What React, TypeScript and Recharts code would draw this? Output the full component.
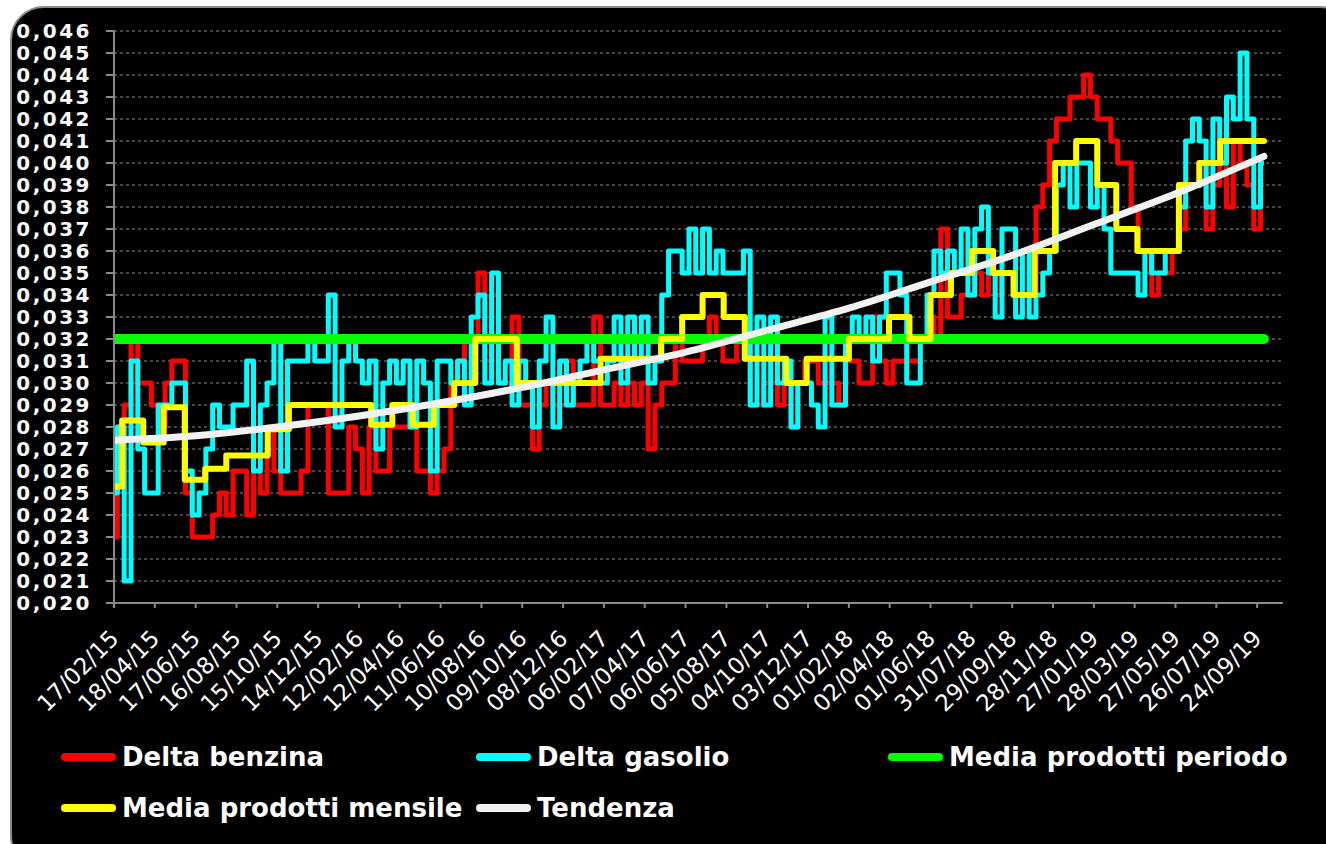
import React from "react";
import { ComposedChart, Line, XAxis, YAxis, CartesianGrid } from "recharts";

// daily deltas sampled every 10 days from 17/02/15
const STEP_DAYS = 10;
const benzina = [
  0.023, 0.028, 0.029, 0.032, 0.030, 0.030, 0.029, 0.028, 0.030, 0.031,
  0.031, 0.025, 0.023, 0.023, 0.023, 0.024, 0.025, 0.024, 0.026, 0.026,
  0.024, 0.026, 0.025, 0.028, 0.026, 0.025, 0.025, 0.025, 0.026, 0.029,
  0.029, 0.029, 0.025, 0.025, 0.025, 0.028, 0.027, 0.025, 0.028, 0.026,
  0.026, 0.028, 0.028, 0.028, 0.028, 0.026, 0.026, 0.025, 0.026, 0.027,
  0.030, 0.031, 0.032, 0.032, 0.035, 0.031, 0.034, 0.030, 0.030, 0.033,
  0.029, 0.029, 0.027, 0.029, 0.030, 0.029, 0.029, 0.031, 0.029, 0.029,
  0.029, 0.033, 0.029, 0.029, 0.030, 0.029, 0.030, 0.029, 0.030, 0.027,
  0.029, 0.030, 0.030, 0.032, 0.031, 0.031, 0.031, 0.032, 0.033, 0.032,
  0.031, 0.031, 0.032, 0.032, 0.029, 0.029, 0.030, 0.030, 0.029, 0.030,
  0.028, 0.030, 0.031, 0.031, 0.030, 0.030, 0.030, 0.029, 0.031, 0.031,
  0.030, 0.030, 0.033, 0.031, 0.030, 0.031, 0.031, 0.031, 0.031, 0.032,
  0.033, 0.032, 0.037, 0.033, 0.033, 0.034, 0.034, 0.035, 0.034, 0.035,
  0.034, 0.035, 0.035, 0.034, 0.034, 0.034, 0.038, 0.039, 0.041, 0.042,
  0.042, 0.043, 0.043, 0.044, 0.043, 0.042, 0.042, 0.041, 0.040, 0.040,
  0.038, 0.036, 0.036, 0.034, 0.035, 0.035, 0.036, 0.037, 0.039, 0.039,
  0.040, 0.037, 0.039, 0.040, 0.038, 0.041, 0.040, 0.039, 0.037, 0.039,
];
const gasolio = [
  0.025, 0.028, 0.021, 0.031, 0.027, 0.025, 0.025, 0.029, 0.029, 0.030,
  0.030, 0.026, 0.024, 0.025, 0.027, 0.029, 0.028, 0.028, 0.029, 0.029,
  0.031, 0.026, 0.029, 0.030, 0.032, 0.026, 0.031, 0.031, 0.031, 0.032,
  0.031, 0.031, 0.034, 0.028, 0.031, 0.032, 0.031, 0.030, 0.031, 0.027,
  0.030, 0.031, 0.030, 0.031, 0.028, 0.031, 0.030, 0.026, 0.031, 0.031,
  0.030, 0.031, 0.029, 0.033, 0.034, 0.030, 0.035, 0.030, 0.031, 0.029,
  0.031, 0.030, 0.028, 0.031, 0.033, 0.028, 0.031, 0.029, 0.030, 0.031,
  0.032, 0.031, 0.030, 0.031, 0.033, 0.030, 0.033, 0.031, 0.033, 0.030,
  0.031, 0.034, 0.036, 0.036, 0.035, 0.037, 0.035, 0.037, 0.035, 0.036,
  0.035, 0.035, 0.035, 0.036, 0.029, 0.033, 0.029, 0.033, 0.030, 0.031,
  0.028, 0.030, 0.030, 0.029, 0.028, 0.033, 0.029, 0.029, 0.032, 0.033,
  0.032, 0.033, 0.031, 0.033, 0.035, 0.035, 0.034, 0.030, 0.030, 0.032,
  0.034, 0.036, 0.035, 0.036, 0.035, 0.037, 0.034, 0.037, 0.038, 0.035,
  0.033, 0.037, 0.037, 0.033, 0.036, 0.033, 0.034, 0.035, 0.036, 0.039,
  0.040, 0.038, 0.040, 0.040, 0.038, 0.039, 0.037, 0.035, 0.035, 0.035,
  0.035, 0.034, 0.036, 0.035, 0.035, 0.036, 0.036, 0.038, 0.041, 0.042,
  0.041, 0.038, 0.042, 0.040, 0.043, 0.042, 0.045, 0.042, 0.038, 0.040,
];

// monthly average, Feb 2015 .. Oct 2019
const mensile = [
  0.0253, 0.0283, 0.0273, 0.0289, 0.0256, 0.0261, 0.0267, 0.0267, 0.0279, 0.029, 0.029,
  0.029, 0.029, 0.0281, 0.029, 0.0281, 0.029, 0.030, 0.032, 0.032, 0.030, 0.030, 0.030,
  0.030, 0.0311, 0.0311, 0.0311, 0.032, 0.033, 0.034, 0.033, 0.0311, 0.0311, 0.030, 0.0311,
  0.0311, 0.032, 0.032, 0.033, 0.032, 0.034, 0.035, 0.036, 0.035, 0.034, 0.036, 0.040,
  0.041, 0.039, 0.037, 0.036, 0.036, 0.039, 0.040, 0.041, 0.041, 0.041,
];

const mediaPeriodo = 0.032;

// trend line
const trendDays = [0, 120, 240, 360, 480, 600, 720, 840, 960, 1080, 1200, 1320, 1440, 1560, 1690];
const trendValues = [
  0.0274, 0.0276, 0.0280, 0.0285, 0.0291, 0.0298, 0.0306, 0.0314, 0.0324, 0.0334,
  0.0346, 0.0358, 0.0372, 0.0386, 0.0403,
];

const yTicks = Array.from({ length: 27 }, (_, i) => +(0.02 + i * 0.001).toFixed(3));
const xTicks = Array.from({ length: 29 }, (_, i) => i * 60);

const START = Date.UTC(2015, 1, 17);
const DAY = 86400000;
const lastDay = (benzina.length - 1) * STEP_DAYS;

const dailyRows = benzina.map((b, i) => ({ day: i * STEP_DAYS, benzina: b, gasolio: gasolio[i] }));
const monthRows = mensile.map((v, k) => ({
  day: k === 0 ? 0 : Math.round((Date.UTC(2015, 1 + k, 1) - START) / DAY),
  mensile: v,
}));
monthRows.push({ day: lastDay, mensile: mensile[mensile.length - 1] });
const periodoRows = [
  { day: 0, periodo: mediaPeriodo },
  { day: lastDay, periodo: mediaPeriodo },
];
const trendRows = trendDays.map((d, i) => ({ day: d, tendenza: trendValues[i] }));

const fmtDate = (d: number) => {
  const dt = new Date(START + d * DAY);
  const p = (n: number) => String(n).padStart(2, "0");
  return `${p(dt.getUTCDate())}/${p(dt.getUTCMonth() + 1)}/${p(dt.getUTCFullYear() % 100)}`;
};

const DateTick = ({ x, y, payload }: any) => (
  <text
    x={x + 6}
    y={y + 30}
    transform={`rotate(-45 ${x + 6} ${y + 30})`}
    textAnchor="end"
    fill="#ffffff"
    fontSize={23}
    fontFamily="DejaVu Sans"
  >
    {fmtDate(payload.value)}
  </text>
);

const legendItems = [
  { name: "Delta benzina", color: "#ff0000", left: 61, top: 757 },
  { name: "Delta gasolio", color: "#00ffff", left: 476, top: 757 },
  { name: "Media prodotti periodo", color: "#00ff00", left: 888, top: 757 },
  { name: "Media prodotti mensile", color: "#ffff00", left: 61, top: 808 },
  { name: "Tendenza", color: "#f2f2f2", left: 476, top: 808 },
];

export default function App() {
  return (
    <div
      style={{
        position: "absolute",
        left: 0,
        top: 0,
        width: 1326,
        height: 844,
        overflow: "hidden",
        background: "#ffffff",
      }}
    >
      <div
        style={{
          position: "absolute",
          left: 10,
          top: 6,
          width: 1340,
          height: 860,
          background: "#000000",
          border: "2px solid #8c8c8c",
          borderRadius: 34,
        }}
      />
      <div style={{ position: "absolute", left: 0, top: 0 }}>
        <ComposedChart width={1326} height={844} margin={{ top: 31, right: 43, bottom: 0, left: 0 }}>
          <CartesianGrid vertical={false} stroke="#8a8a8a" strokeDasharray="3 3" />
          <XAxis
            type="number"
            dataKey="day"
            domain={[0, 1718]}
            ticks={xTicks}
            interval={0}
            allowDataOverflow
            height={241}
            stroke="#8a8a8a"
            strokeWidth={2}
            tickSize={5}
            tick={<DateTick />}
          />
          <YAxis
            type="number"
            domain={[0.02, 0.046]}
            ticks={yTicks}
            interval={0}
            width={114}
            stroke="#8a8a8a"
            strokeWidth={2}
            tickSize={8}
            tickMargin={14}
            tickFormatter={(v: number) => v.toFixed(3).replace(".", ",")}
            tick={{
              fill: "#ffffff",
              fontSize: 20,
              fontWeight: "bold",
              fontFamily: "DejaVu Sans",
              letterSpacing: 2.5,
            }}
          />
          <Line
            data={dailyRows}
            dataKey="benzina"
            type="step"
            stroke="#ff0000"
            strokeWidth={5}
            dot={false}
            activeDot={false}
            isAnimationActive={false}
            strokeLinejoin="round"
          />
          <Line
            data={dailyRows}
            dataKey="gasolio"
            type="step"
            stroke="#00ffff"
            strokeWidth={5}
            dot={false}
            activeDot={false}
            isAnimationActive={false}
            strokeLinejoin="round"
          />
          <Line
            data={periodoRows}
            dataKey="periodo"
            type="linear"
            stroke="#00ff00"
            strokeWidth={10}
            strokeLinecap="round"
            dot={false}
            activeDot={false}
            isAnimationActive={false}
          />
          <Line
            data={monthRows}
            dataKey="mensile"
            type="stepAfter"
            stroke="#ffff00"
            strokeWidth={6}
            strokeLinecap="round"
            strokeLinejoin="round"
            dot={false}
            activeDot={false}
            isAnimationActive={false}
          />
          <Line
            data={trendRows}
            dataKey="tendenza"
            type="monotone"
            stroke="#f2f2f2"
            strokeWidth={7}
            strokeLinecap="round"
            dot={false}
            activeDot={false}
            isAnimationActive={false}
          />
        </ComposedChart>
      </div>
      {legendItems.map((it) => (
        <div
          key={it.name}
          style={{
            position: "absolute",
            left: it.left,
            top: it.top - 16,
            height: 32,
            display: "flex",
            alignItems: "center",
            fontFamily: "DejaVu Sans",
            fontWeight: "bold",
            fontSize: 26,
            color: "#ffffff",
            whiteSpace: "nowrap",
          }}
        >
          <span
            style={{
              display: "inline-block",
              width: 55,
              height: 8,
              borderRadius: 4,
              background: it.color,
              marginRight: 6,
            }}
          />
          {it.name}
        </div>
      ))}
    </div>
  );
}
